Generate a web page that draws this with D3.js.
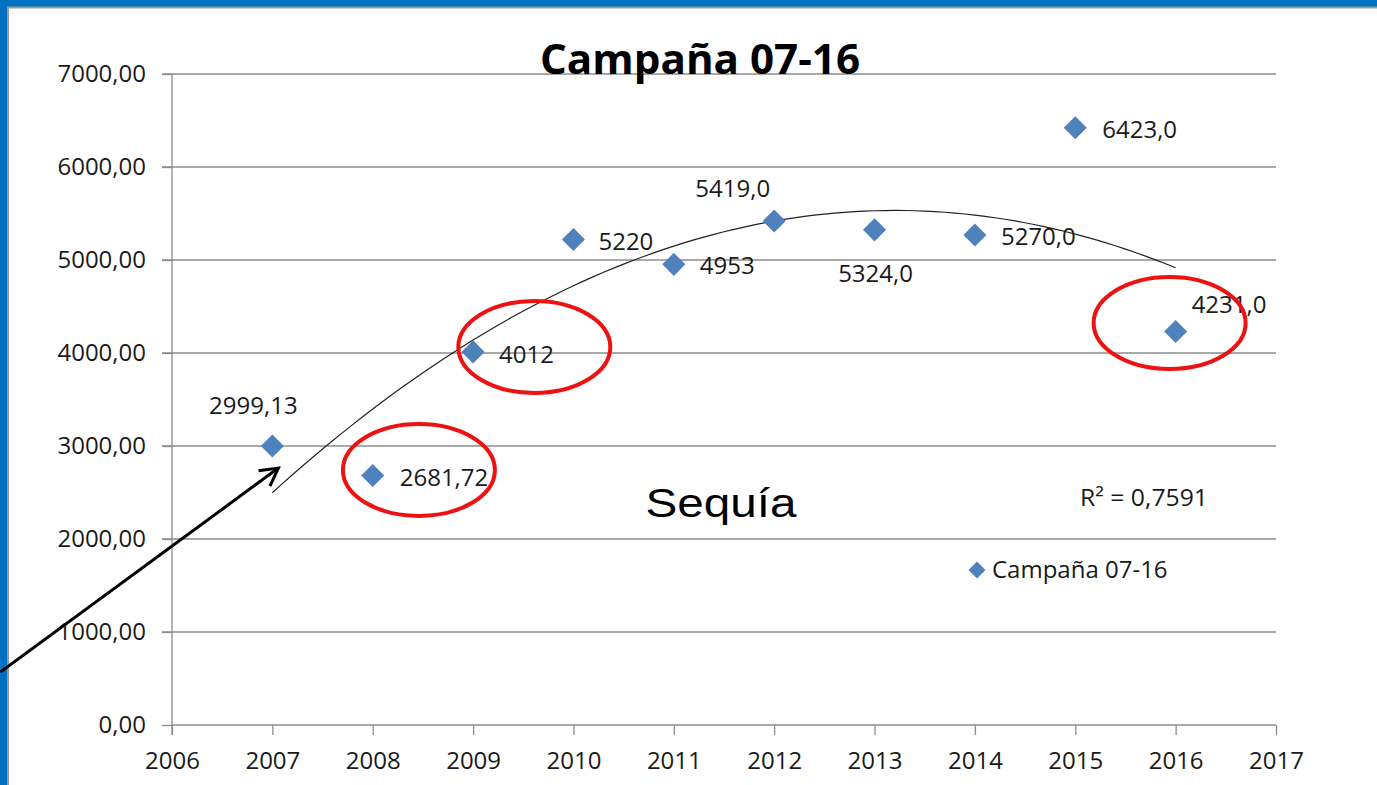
<!DOCTYPE html>
<html>
<head>
<meta charset="utf-8">
<script src="https://cdn.jsdelivr.net/npm/d3@7"></script>
<style>
  html, body { margin: 0; padding: 0; background: #fff; }
  svg { display: block; }
  text { font-family: "Open Sans", sans-serif; fill: #1a1a1a; }
</style>
</head>
<body>
<div id="chart"></div>
<script>
// values
var years = [2007, 2008, 2009, 2010, 2011, 2012, 2013, 2014, 2015, 2016];
var values = [2999.13, 2681.72, 4012, 5220, 4953, 5419.0, 5324.0, 5270.0, 6423.0, 4231.0];
var valueLabels = ["2999,13", "2681,72", "4012", "5220", "4953", "5419,0", "5324,0", "5270,0", "6423,0", "4231,0"];
var yTicks = [0, 1000, 2000, 3000, 4000, 5000, 6000, 7000];
var xTicks = [2006, 2007, 2008, 2009, 2010, 2011, 2012, 2013, 2014, 2015, 2016, 2017];
var seriesName = "Campaña 07-16";
var r2Text = "R² = 0,7591";
// red rings drawn over the slide: [year, value] of centre
var rings = [[2008.46, 2742], [2009.61, 4065], [2015.94, 4323]];

// where each data label sits relative to its point
var labelOffsets = [
  {dx: -19, dy: -32, anchor: "middle"},
  {dx: 27, dy: 10, anchor: "start"},
  {dx: 26, dy: 11, anchor: "start"},
  {dx: 25, dy: 10, anchor: "start"},
  {dx: 26, dy: 10, anchor: "start"},
  {dx: -4, dy: -24, anchor: "end"},
  {dx: 1, dy: 52, anchor: "middle"},
  {dx: 26, dy: 10, anchor: "start"},
  {dx: 27, dy: 10, anchor: "start"},
  {dx: 16, dy: -19, anchor: "start"}
];

var W = 1377, H = 785;
var svg = d3.select("#chart").append("svg")
    .attr("width", W)
    .attr("height", H);

// slide frame
svg.append("rect").attr("x", 0).attr("y", 0).attr("width", W).attr("height", 7).attr("fill", "#0070c0");
svg.append("rect").attr("x", 0).attr("y", 0).attr("width", 7).attr("height", H).attr("fill", "#0070c0");
svg.append("path").attr("d", "M8," + H + "V7.5H" + W)
    .attr("fill", "none").attr("stroke", "#9a9a9a").attr("stroke-width", 2);

var x = d3.scaleLinear().domain([2006, 2017]).range([172, 1276]);
var y = d3.scaleLinear().domain([0, 7000]).range([725, 74]);

var fmt = function(d) { return d3.format(".2f")(d).replace(".", ","); };

// gridlines
svg.append("g").selectAll("line")
    .data(yTicks.slice(1))
    .join("line")
    .attr("x1", 162).attr("x2", x(2017))
    .attr("y1", d => y(d)).attr("y2", d => y(d))
    .attr("stroke", "#8c8c8c").attr("stroke-width", 1.3);

// axes
var yAxis = svg.append("g").attr("transform", "translate(" + x(2006) + ",0)")
    .call(d3.axisLeft(y).tickValues(yTicks).tickFormat(fmt).tickSize(10).tickPadding(16));
var xAxis = svg.append("g").attr("transform", "translate(0," + y(0) + ")")
    .call(d3.axisBottom(x).tickValues(xTicks).tickFormat(d3.format("d")).tickSize(10).tickPadding(17));
[yAxis, xAxis].forEach(function(a) {
  a.select(".domain").attr("stroke", "#8c8c8c").attr("stroke-width", 1.3);
  a.selectAll(".tick line").attr("stroke", "#8c8c8c").attr("stroke-width", 1.3);
  a.selectAll(".tick text").attr("font-size", 24).attr("fill", "#1a1a1a")
      .attr("font-family", "'Open Sans', sans-serif");
});
yAxis.select(".domain").attr("d", "M0," + y(7000) + "V" + (y(0) + 10));
xAxis.select(".domain").attr("d", "M" + x(2006) + ",0H" + x(2017));

// quadratic trend line (least squares on the series)
function polyFit(xs, ys) {
  var m = d3.mean(xs);
  var u = xs.map(v => v - m);
  var n = xs.length;
  var s2 = d3.sum(u, v => v * v), s3 = d3.sum(u, v => v * v * v), s4 = d3.sum(u, v => v * v * v * v);
  var s1 = d3.sum(u);
  var sy = d3.sum(ys), suy = d3.sum(u, (v, i) => v * ys[i]), su2y = d3.sum(u, (v, i) => v * v * ys[i]);
  // solve 3x3 normal equations
  var A = [[n, s1, s2, sy], [s1, s2, s3, suy], [s2, s3, s4, su2y]];
  for (var i = 0; i < 3; i++) {
    for (var k = i + 1; k < 3; k++) {
      var f = A[k][i] / A[i][i];
      for (var j = i; j < 4; j++) A[k][j] -= f * A[i][j];
    }
  }
  var c = [0, 0, 0];
  for (i = 2; i >= 0; i--) {
    var s = A[i][3];
    for (j = i + 1; j < 3; j++) s -= A[i][j] * c[j];
    c[i] = s / A[i][i];
  }
  return function(t) { var v = t - m; return c[0] + c[1] * v + c[2] * v * v; };
}
var trend = polyFit(years, values);
var trendPts = d3.range(0, 91).map(i => 2007 + i / 10);
svg.append("path")
    .datum(trendPts)
    .attr("fill", "none")
    .attr("stroke", "#222")
    .attr("stroke-width", 1.2)
    .attr("d", d3.line().x(d => x(d)).y(d => y(trend(d))));

// title
svg.append("text")
    .attr("x", 700).attr("y", 74)
    .attr("text-anchor", "middle")
    .attr("font-size", 41).attr("font-weight", "bold")
    .attr("textLength", 320).attr("lengthAdjust", "spacingAndGlyphs")
    .style("fill", "#000")
    .text(seriesName);

// points
var diamond = d3.symbol().type(d3.symbolSquare).size(265);
svg.append("g").selectAll("path")
    .data(years)
    .join("path")
    .attr("d", diamond)
    .attr("transform", (d, i) => "translate(" + x(d) + "," + y(values[i]) + ") rotate(45)")
    .attr("fill", "#4f81bd");

// data labels
svg.append("g").selectAll("text")
    .data(years)
    .join("text")
    .attr("x", (d, i) => x(d) + labelOffsets[i].dx)
    .attr("y", (d, i) => y(values[i]) + labelOffsets[i].dy)
    .attr("text-anchor", (d, i) => labelOffsets[i].anchor)
    .attr("font-size", 24)
    .text((d, i) => valueLabels[i]);

// R squared
svg.append("text")
    .attr("x", 1080).attr("y", 506)
    .attr("font-size", 23)
    .attr("textLength", 128).attr("lengthAdjust", "spacingAndGlyphs")
    .text(r2Text);

// legend
svg.append("path")
    .attr("d", d3.symbol().type(d3.symbolSquare).size(145))
    .attr("transform", "translate(977,570) rotate(45)")
    .attr("fill", "#4f81bd");
svg.append("text")
    .attr("x", 992).attr("y", 578)
    .attr("font-size", 24)
    .text(seriesName);

// slide annotations
svg.append("text")
    .attr("x", 721).attr("y", 517)
    .attr("text-anchor", "middle")
    .style("font-family", "'Liberation Sans', Arial, sans-serif")
    .attr("font-size", 41)
    .attr("textLength", 151).attr("lengthAdjust", "spacingAndGlyphs")
    .style("fill", "#000")
    .text("Sequía");

svg.append("g").selectAll("ellipse")
    .data(rings)
    .join("ellipse")
    .attr("cx", d => x(d[0])).attr("cy", d => y(d[1]))
    .attr("rx", 76).attr("ry", 46)
    .attr("fill", "none")
    .attr("stroke", "#ee1111")
    .attr("stroke-width", 4);

// arrow pointing at the first point
var ax0 = x(2004.29), ay0 = y(570), ax1 = x(2007.06), ay1 = y(2763);
var ang = Math.atan2(ay1 - ay0, ax1 - ax0);
var head = 20, spread = 0.5;
svg.append("line")
    .attr("x1", ax0).attr("y1", ay0).attr("x2", ax1).attr("y2", ay1)
    .attr("stroke", "#000").attr("stroke-width", 3);
svg.append("path")
    .attr("d", "M" + (ax1 - head * Math.cos(ang - spread)) + "," + (ay1 - head * Math.sin(ang - spread)) +
      "L" + ax1 + "," + ay1 +
      "L" + (ax1 - head * Math.cos(ang + spread)) + "," + (ay1 - head * Math.sin(ang + spread)))
    .attr("fill", "none").attr("stroke", "#000").attr("stroke-width", 3)
    .attr("stroke-linejoin", "miter");
</script>
</body>
</html>
